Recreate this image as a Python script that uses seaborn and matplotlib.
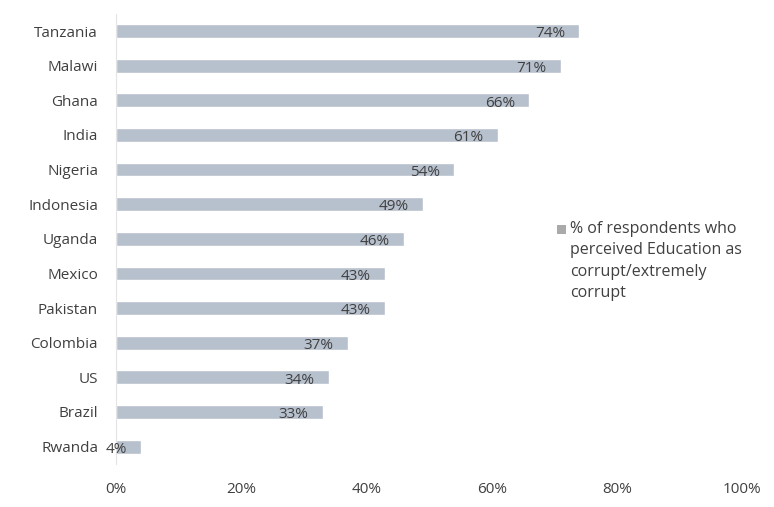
import matplotlib
matplotlib.use("Agg")
import matplotlib.pyplot as plt
from matplotlib.patches import Rectangle
import seaborn as sns
import pandas as pd

countries = ["Tanzania", "Malawi", "Ghana", "India", "Nigeria", "Indonesia", "Uganda",
             "Mexico", "Pakistan", "Colombia", "US", "Brazil", "Rwanda"]
values = [74, 71, 66, 61, 54, 49, 46, 43, 43, 37, 34, 33, 4]
x_ticks = [0, 20, 40, 60, 80, 100]
x_tick_labels = ["0%", "20%", "40%", "60%", "80%", "100%"]
series_label = "% of respondents who\nperceived Education as\ncorrupt/extremely\ncorrupt"

sns.set_theme(style="white")
plt.rcParams['font.family'] = ['Open Sans', 'DejaVu Sans']
text_color = "#404040"
bar_color = "#b7c0cd"

df = pd.DataFrame({"country": countries, "value": values})

fig = plt.figure(figsize=(7.74, 5.07), dpi=100)
ax = fig.add_axes([0.15, 0.085, 0.809, 0.888])

sns.barplot(data=df, x="value", y="country", orient="h", color=bar_color,
            width=0.4, ax=ax, saturation=1)

for i, v in enumerate(values):
    ax.text(v - 2.3, i + 0.08, f"{v}%", ha="right", va="center",
            fontsize=11, color=text_color)

ax.set_xlim(0, 100)
ax.set_ylim(12.5, -0.5)
ax.set_xticks(x_ticks)
ax.set_xticklabels(x_tick_labels, fontsize=11, color=text_color)
ax.tick_params(axis="y", labelsize=11, labelcolor=text_color, length=0, pad=13)
ax.tick_params(axis="x", length=0, pad=13)
ax.set_xlabel("")
ax.set_ylabel("")
for s in ["top", "right", "bottom"]:
    ax.spines[s].set_visible(False)
ax.spines["left"].set_color("#e4e4e4")
ax.spines["left"].set_linewidth(0.8)

# legend (manual, to keep marker aligned to first line)
fig.patches.append(Rectangle((557 / 774, 1 - 234 / 507), 9 / 774, 9 / 507,
                             transform=fig.transFigure, facecolor="#aaaaaa",
                             edgecolor="none"))
fig.text(570 / 774, 1 - 221 / 507, series_label, ha="left", va="top",
         fontsize=11.5, color=text_color, linespacing=1.45)

fig.savefig("out.png", dpi=100)
